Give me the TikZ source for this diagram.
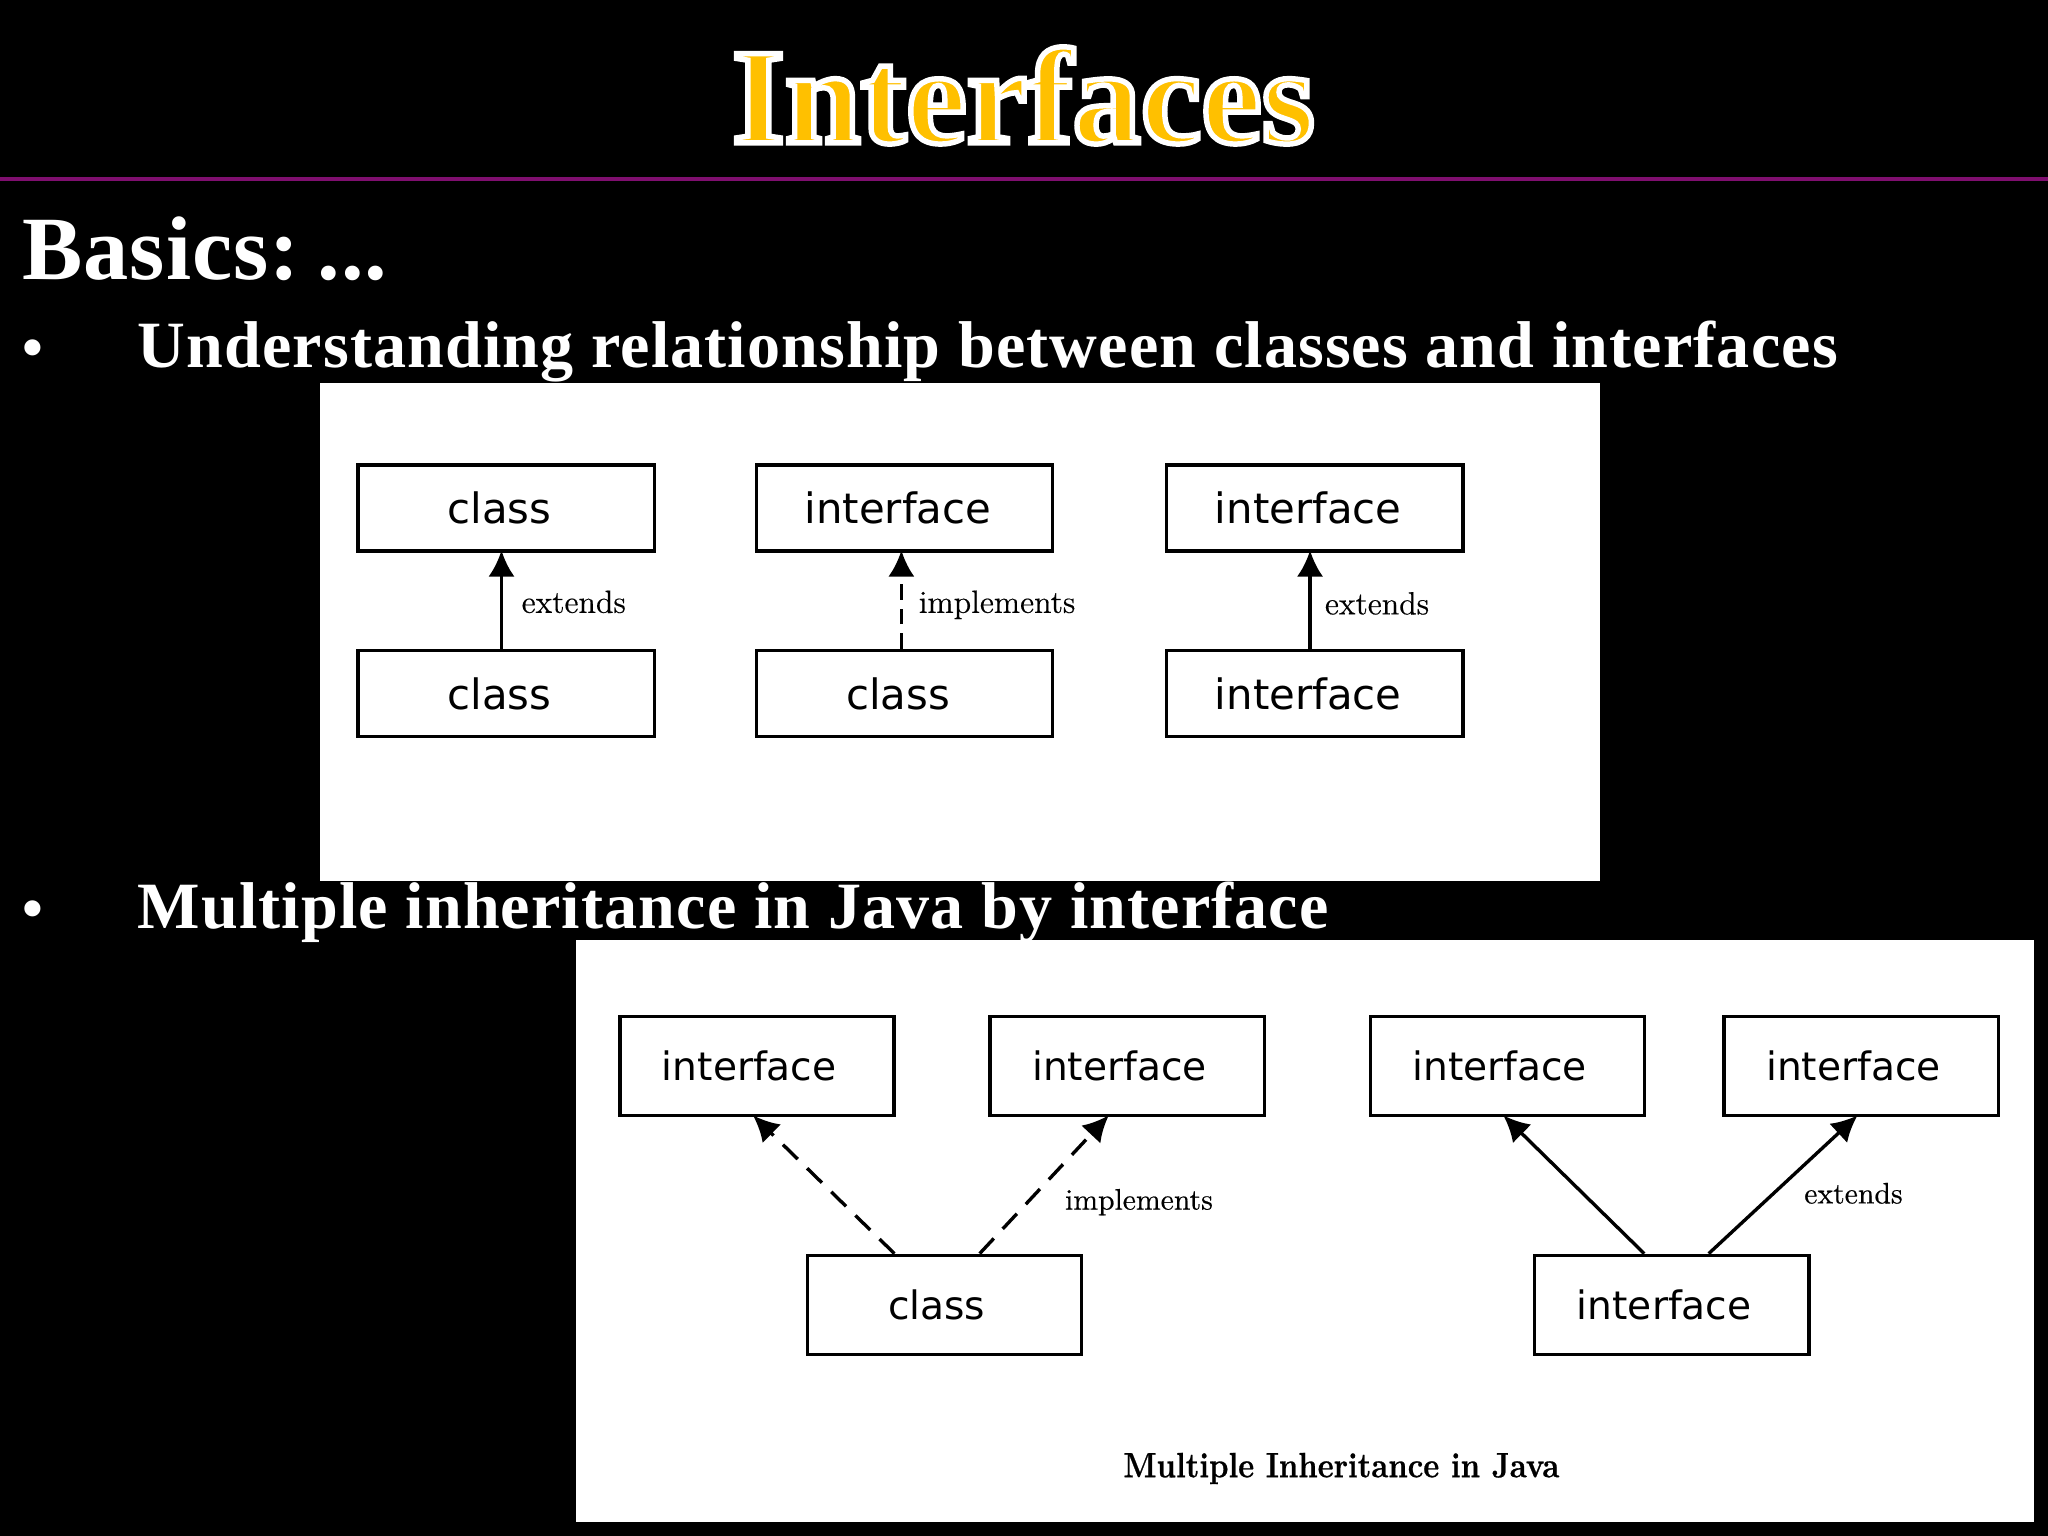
\documentclass[tikz,border=0pt]{standalone}
\usepackage{fontspec}
\usetikzlibrary{positioning}
\usetikzlibrary{arrows.meta}
\newfontfamily\slidefont[LetterSpace=1.7]{Liberation Serif Bold}
\newfontfamily\basicsfont[LetterSpace=1]{Liberation Serif Bold}
\newfontfamily\titlefont[FakeBold=4]{Liberation Serif Bold}
\newfontfamily\boxfont{DejaVu Sans}
\newfontfamily\relfont[FakeBold=.4]{Latin Modern Roman}
\newfontfamily\capfont[BoldFeatures={FakeBold=.8}]{Latin Modern Roman}
\definecolor{titlegold}{HTML}{FFC000}
\definecolor{rulepurple}{HTML}{7F0F6F}
\tikzset{
  boxa/.style={draw=black,line width=1.25pt,fill=white,minimum width=3.86cm,minimum height=1.12cm,inner sep=0pt,font=\boxfont\fontsize{15.5}{15}\selectfont,execute at end node={\hspace{.17cm}}},
  boxb/.style={draw=black,line width=1.25pt,fill=white,minimum width=3.57cm,minimum height=1.29cm,inner sep=0pt,font=\boxfont\fontsize{14.5}{15}\selectfont,execute at end node={\hspace{.2cm}}},
  head/.style={font=\slidefont\fontsize{24.5}{24}\selectfont,text=white,anchor=base west,inner sep=0pt},
  bullet/.style={font=\slidefont\fontsize{22}{22}\selectfont,text=white,anchor=base west,inner sep=0pt},
  rela/.style={font=\relfont\fontsize{11.9}{12}\selectfont,anchor=base west,inner sep=0pt},
  relb/.style={font=\relfont\fontsize{11}{12}\selectfont,anchor=base west,inner sep=0pt},
  arrowup/.style={line width=1.25pt,shorten >=-.03cm,-{Latex[length=.34cm,width=.34cm]}},
  arrowdash/.style={arrowup,dash pattern=on .2cm off .12cm},
  arrowlong/.style={arrowup,dash pattern=on .27cm off .17cm}
}
\begin{document}
\begin{tikzpicture}
\useasboundingbox (0,0) rectangle (26.667,20);
\fill[black] (0,0) rectangle (26.667,20);
\node[font=\titlefont\fontsize{50.5}{50}\selectfont,anchor=base,inner sep=0pt,text=titlegold] (title) at (13.325,18.14) {\special{pdf:code 1 1 1 RG}Interfaces};
\fill[rulepurple] (0,17.64) rectangle (26.667,17.70);

\node[font=\basicsfont\fontsize{33.5}{34}\selectfont,text=white,anchor=base west,inner sep=0pt] (basics) at (.289,16.36) {Basics:\kern-.17cm{} ...};
\node[bullet] (bulleta) at (.289,15.22) {\textbullet};
\node[head] (heada) at (1.786,15.22) {Understanding relationship between classes and interfaces};
\node[bullet] (bulletb) at (.289,7.908) {\textbullet};
\node[head] (headb) at (1.786,7.908) {Multiple inheritance in Java by interface};

% upper picture
\fill[white] (4.167,8.53) rectangle (20.834,15.017);
\node[boxa] (classa) at (6.59,13.385) {class};
\node[boxa] (classb) at (6.59,10.97) {class};
\node[boxa] (ifacea) at (11.777,13.385) {interface};
\node[boxa] (classc) at (11.777,10.97) {class};
\node[boxa] (ifaceb) at (17.118,13.385) {interface};
\node[boxa] (ifacec) at (17.118,10.97) {interface};
\draw[arrowup] ([xshift=-.06cm]classb.north) -- ([xshift=-.06cm]classa.south);
\draw[arrowdash] ([xshift=-.04cm]classc.north) -- ([xshift=-.04cm]ifacea.south);
\draw[arrowup] ([xshift=-.06cm]ifacec.north) -- ([xshift=-.06cm]ifaceb.south);
\node[rela] (exta) at (6.786,12.02) {extends};
\node[rela] (impa) at (11.956,12.02) {implements};
\node[rela] (extb) at (17.245,12.0) {extends};

% lower picture
\fill[white] (7.5,.187) rectangle (26.48,7.755);
\node[boxb] (ifaced) at (9.856,6.123) {interface};
\node[boxb] (ifacee) at (14.677,6.123) {interface};
\node[boxb] (ifacef) at (19.626,6.123) {interface};
\node[boxb] (ifaceg) at (24.235,6.123) {interface};
\node[boxb] (classd) at (12.296,3.01) {class};
\node[boxb] (ifaceh) at (21.769,3.01) {interface};
\draw[arrowlong] ([xshift=-.65cm]classd.north) -- ([xshift=-.03cm]ifaced.south);
\draw[arrowlong] ([xshift=.46cm]classd.north) -- ([xshift=-.26cm]ifacee.south);
\draw[arrowup] ([xshift=-.36cm]ifaceh.north) -- ([xshift=-.03cm]ifacef.south);
\draw[arrowup] ([xshift=.48cm]ifaceh.north) -- ([xshift=-.07cm]ifaceg.south);
\node[relb] (impb) at (13.861,4.25) {implements};
\node[relb] (extc) at (23.487,4.33) {extends};
\node[font=\capfont\bfseries\fontsize{13}{13}\selectfont,xscale=.886,transform shape,anchor=base,inner sep=0pt] (caption) at (17.466,.765) {Multiple Inheritance in Java};
\end{tikzpicture}
\end{document}
